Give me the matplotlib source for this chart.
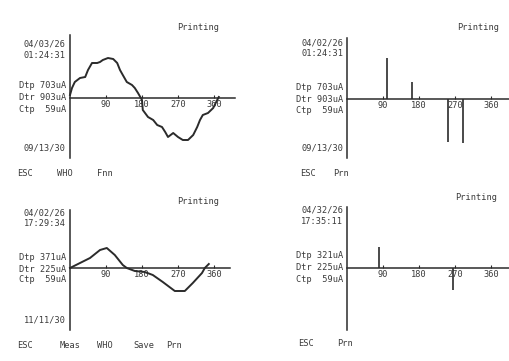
import matplotlib
matplotlib.use("Agg")
import matplotlib.pyplot as plt
import numpy as np

# phase (deg) and amplitude readings for the two waveform printouts
wave1_deg = [0, 5, 12, 25, 38, 45, 55, 68, 75, 82, 95, 108, 118, 125, 132, 142, 155, 162, 170,
             180, 182, 195, 208, 218, 230, 238, 245, 258, 270, 282, 295, 308, 318, 325, 332,
             345, 358, 368, 372]
wave1_amp = [3, 10, 16, 20, 21, 28, 35, 35, 36, 38, 40, 39, 35, 28, 23, 16, 13, 10, 5,
             -2, -12, -19, -22, -27, -29, -34, -39, -35, -39, -42, -42, -37, -29, -22, -17,
             -15, -10, -2, 1]

wave3_deg = [0, 25, 50, 75, 92, 112, 132, 142, 162, 187, 207, 232, 262, 287, 307, 330, 337, 347]
wave3_amp = [0, 5, 10, 18, 20, 13, 3, 0, -3, -4, -7, -14, -23, -23, -15, -5, 0, 4]

# spike printouts
spike2_deg = [100, 163, 252, 291]
spike2_amp = [41, 17, -43, -44]
spike4_deg = [80, 265]
spike4_amp = [21, -22]

tick_deg = [90, 180, 270, 360]
tick_lbl = ["90", "180", "270", "360"]

dates = [("04/03/26", "01:24:31", "09/13/30"),
         ("04/02/26", "01:24:31", "09/13/30"),
         ("04/02/26", "17:29:34", "11/11/30"),
         ("04/32/26", "17:35:11", None)]
readings = [("Dtp 703uA", "Dtr 903uA", "Ctp  59uA"),
            ("Dtp 703uA", "Dtr 903uA", "Ctp  59uA"),
            ("Dtp 371uA", "Dtr 225uA", "Ctp  59uA"),
            ("Dtp 321uA", "Dtr 225uA", "Ctp  59uA")]
menus = [["ESC", "WHO", "Fnn"],
         ["ESC", "Prn"],
         ["ESC", "Meas", "WHO", "Save", "Prn"],
         ["ESC", "Prn"]]

W, H = 509, 361
S = 0.4  # px per degree
INK = "#2b2b2b"
TXT = "#3a3a3a"
FONT = "DejaVu Sans Mono"
FS = 6.2

fig = plt.figure(figsize=(W / 100, H / 100), dpi=100)
fig.patch.set_facecolor("white")

rects = [(0, 0, 255, 180), (255, 0, 254, 180), (0, 180, 255, 181), (255, 180, 254, 181)]
origins = [(70, 98), (347, 99), (70, 268), (347, 268)]
vbounds = [(-60, 63), (-59, 61), (-62, 58), (-62, 61)]
hend = [412, 410, 400, 410]

# text layout (pixels)
txt_right = [66, 343, 66, 343]
date_y = [(44, 55, 148), (43, 54, 148), (213, 223, 320), (210, 221, None)]
read_y = [(86, 98, 110), (88, 100, 111), (258, 269, 279), (255, 267, 279)]
menu_y = [173, 173, 345, 343]
menu_x = [[17, 57, 97], [300, 333], [17, 60, 97, 133, 166], [298, 337]]
print_xy = [(177, 27), (457, 28), (177, 202), (455, 197)]


def ftext(px, py, s, ha="left"):
    fig.text(px / W, 1 - py / H, s, ha=ha, va="center", fontsize=FS,
             family=FONT, color=TXT)


axes = []
for i in range(4):
    x0, y0, w, h = rects[i]
    ox, oy = origins[i]
    ax = fig.add_axes([x0 / W, 1 - (y0 + h) / H, w / W, h / H])
    ax.set_xlim((x0 - ox) / S, (x0 + w - ox) / S)
    ax.set_ylim(oy - (y0 + h), oy - y0)
    ax.patch.set_alpha(0)
    for side in ["top", "right"]:
        ax.spines[side].set_visible(False)
    ax.spines["left"].set_position(("data", 0))
    ax.spines["bottom"].set_position(("data", 0))
    ax.spines["left"].set_bounds(*vbounds[i])
    ax.spines["bottom"].set_bounds(0, hend[i])
    for side in ["left", "bottom"]:
        ax.spines[side].set_color(INK)
        ax.spines[side].set_linewidth(1.1)
    ax.set_yticks([])
    ax.set_xticks(tick_deg)
    ax.set_xticklabels(tick_lbl, family=FONT, fontsize=FS, color=TXT)
    ax.tick_params(axis="x", direction="in", length=2, width=0.8, color=INK, pad=1.5)
    axes.append(ax)

axes[0].plot(wave1_deg, wave1_amp, color=INK, lw=1.4)
axes[2].plot(wave3_deg, wave3_amp, color=INK, lw=1.4)
axes[1].vlines(spike2_deg, 0, spike2_amp, color=INK, lw=1.2)
axes[3].vlines(spike4_deg, 0, spike4_amp, color=INK, lw=1.2)

for i in range(4):
    r = txt_right[i]
    d, t, b = dates[i]
    ftext(r, date_y[i][0], d, ha="right")
    ftext(r, date_y[i][1], t, ha="right")
    if b is not None:
        ftext(r, date_y[i][2], b, ha="right")
    for s, yy in zip(readings[i], read_y[i]):
        ftext(r, yy, s, ha="right")
    for s, xx in zip(menus[i], menu_x[i]):
        ftext(xx, menu_y[i], s)
    ftext(print_xy[i][0], print_xy[i][1], "Printing")

fig.savefig("out.png", dpi=100, facecolor="white")
